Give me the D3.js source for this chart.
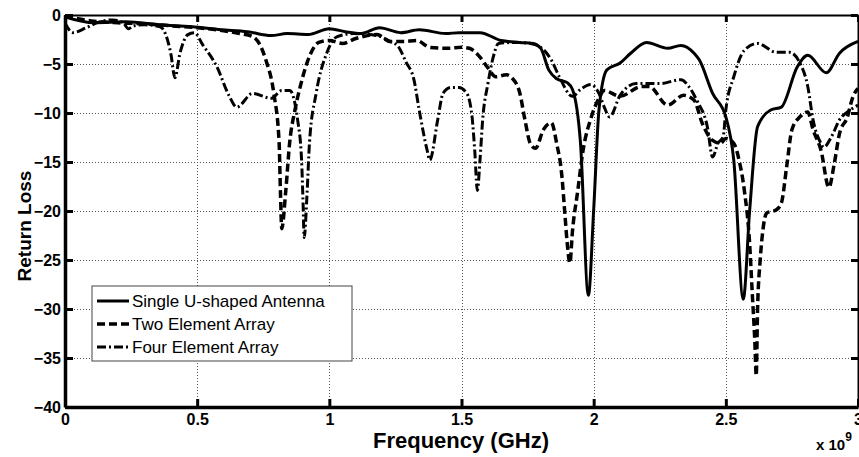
<!DOCTYPE html>
<html>
<head>
<meta charset="utf-8">
<script src="https://cdn.jsdelivr.net/npm/d3@7"></script>
<style>
body { margin:0; background:#fff; }
svg { font-family: Arial, "Liberation Sans", Helvetica, sans-serif; }
.grid line { stroke:#555; stroke-width:1; stroke-dasharray:1,2; shape-rendering:crispEdges; }
.axis text { font-size:16px; font-weight:bold; fill:#000; }
.axis line { stroke:#000; stroke-width:3; }
.axis path { stroke:#000; }
.curve { fill:none; stroke:#000; }
</style>
</head>
<body>
<script>
var width = 859, height = 457;

// frequency in GHz (axis shown in units of 1e9 Hz), return loss in dB
var singleFreq = [0,0.11,0.23,0.36,0.48,0.59,0.69,0.78,0.84,0.92,1.0,1.06,1.12,1.19,1.27,1.34,1.44,1.49,1.57,1.65,1.72,1.77,1.80,1.83,1.86,1.90,1.92,1.95,1.98,2.0,2.02,2.05,2.10,2.14,2.20,2.28,2.33,2.38,2.40,2.45,2.50,2.53,2.566,2.59,2.62,2.67,2.71,2.77,2.81,2.88,2.93,3.0];
var singleLoss = [-0.2,-0.8,-0.7,-1.0,-1.2,-1.5,-1.7,-2.1,-1.9,-2.0,-1.4,-1.7,-1.9,-1.3,-1.8,-1.5,-1.9,-1.8,-1.8,-2.6,-2.8,-2.9,-3.4,-5.6,-6.5,-6.9,-7.6,-13,-28.6,-19.9,-9.7,-5.6,-4.9,-3.9,-2.8,-3.4,-3.1,-3.9,-4.6,-8.0,-10.4,-14.8,-29.0,-20,-11.4,-9.7,-9.4,-5.3,-4.1,-5.9,-3.9,-2.7];

var twoFreq = [0,0.1,0.2,0.3,0.4,0.5,0.6,0.66,0.71,0.76,0.79,0.81,0.815,0.82,0.835,0.85,0.87,0.89,0.93,0.96,1.0,1.05,1.10,1.18,1.23,1.28,1.33,1.38,1.45,1.50,1.53,1.57,1.60,1.63,1.67,1.69,1.72,1.74,1.76,1.78,1.81,1.84,1.86,1.88,1.89,1.90,1.91,1.92,1.94,1.96,1.99,2.02,2.04,2.10,2.18,2.21,2.28,2.34,2.38,2.41,2.45,2.48,2.50,2.53,2.55,2.57,2.59,2.60,2.61,2.615,2.62,2.63,2.64,2.655,2.69,2.71,2.73,2.75,2.78,2.81,2.83,2.86,2.89,2.91,2.93,2.96,2.98,3.0];
var twoLoss = [-0.1,-0.6,-0.8,-0.9,-1.1,-1.3,-1.6,-1.9,-2.2,-4.6,-8,-13,-18,-21.8,-18,-13,-9.7,-7.3,-3.9,-2.8,-2.6,-2.9,-2.4,-2.0,-2.7,-2.7,-2.6,-3.3,-3.4,-3.3,-3.4,-4.3,-5.4,-6.3,-6.1,-6.4,-7.9,-10.7,-13.1,-13.6,-11.7,-11,-13.1,-16.5,-19.9,-23.3,-25.3,-22,-17.9,-13.8,-10.5,-8.5,-7.7,-8.3,-7.3,-7.3,-9.2,-8.2,-8.7,-11,-12.8,-13.1,-12.6,-13.1,-14.8,-17.9,-23.3,-28.4,-33.5,-36.8,-30.1,-25,-22,-20.2,-19.9,-19.2,-15.5,-11.7,-10.4,-9.9,-11.7,-13.8,-17.6,-15.2,-12.1,-10.4,-8.4,-7.5];

var fourFreq = [0,0.03,0.08,0.13,0.18,0.22,0.24,0.26,0.3,0.36,0.40,0.416,0.435,0.465,0.49,0.52,0.575,0.62,0.65,0.71,0.78,0.82,0.85,0.88,0.895,0.90,0.905,0.915,0.925,0.95,0.99,1.03,1.09,1.18,1.23,1.26,1.29,1.32,1.34,1.37,1.38,1.41,1.43,1.46,1.49,1.52,1.54,1.55,1.56,1.57,1.58,1.60,1.62,1.64,1.70,1.76,1.80,1.84,1.87,1.92,1.95,1.99,2.02,2.04,2.06,2.10,2.16,2.25,2.33,2.36,2.39,2.43,2.45,2.47,2.49,2.50,2.53,2.57,2.62,2.69,2.74,2.78,2.81,2.83,2.86,2.87,2.90,2.93,2.97,3.0];
var fourLoss = [-0.8,-1.8,-1.3,-0.7,-0.5,-0.8,-1.4,-1.1,-1.0,-1.2,-3.9,-6.4,-3.9,-2.0,-1.8,-3.0,-5.3,-8.2,-9.4,-8.0,-8.5,-7.7,-7.7,-10.7,-14.8,-18.6,-22.7,-18.6,-13,-8,-3.9,-2.2,-1.9,-2.1,-2.7,-3.2,-4.8,-6.6,-9.7,-13.8,-14.8,-10.7,-8.0,-7.4,-7.4,-8.0,-10.4,-13.8,-17.9,-14.8,-10.7,-7,-4.3,-2.9,-2.8,-2.9,-3.3,-4.6,-6.3,-8.3,-7.6,-7.1,-8,-9.4,-10.4,-8.2,-7.0,-7.0,-6.6,-7.3,-8.7,-11.4,-14.5,-13.1,-12.4,-9.7,-6.3,-3.6,-2.9,-3.8,-3.8,-4.9,-7.3,-10.7,-13.1,-13.5,-12.4,-10.7,-9.7,-9.2];

var xTicks = [0,0.5,1,1.5,2,2.5,3];
var yTicks = [-40,-35,-30,-25,-20,-15,-10,-5,0];

var series = [
	{name:"Single U-shaped Antenna", freq:singleFreq, loss:singleLoss, width:3, dash:null},
	{name:"Two Element Array", freq:twoFreq, loss:twoLoss, width:3.5, dash:"8,4"},
	{name:"Four Element Array", freq:fourFreq, loss:fourLoss, width:3, dash:"9,3,2,3"}
];

var plotL = 65, plotR = 858, plotT = 15, plotB = 407;

var x = d3.scaleLinear().domain([0,3]).range([plotL,plotR]);
var y = d3.scaleLinear().domain([-40,0]).range([plotB,plotT]);

var svg = d3.select("body")
	.append("svg")
	.attr("width", width)
	.attr("height", height);

svg.append("defs").append("clipPath")
	.attr("id", "plot")
	.append("rect")
	.attr("x", plotL)
	.attr("y", plotT)
	.attr("width", plotR-plotL)
	.attr("height", plotB-plotT);

var grid = svg.append("g").attr("class", "grid");
grid.selectAll("line.v")
	.data(xTicks.slice(1, -1))
	.enter().append("line")
	.attr("class", "v")
	.attr("x1", function(d){ return Math.round(x(d))+0.5; })
	.attr("x2", function(d){ return Math.round(x(d))+0.5; })
	.attr("y1", plotT)
	.attr("y2", plotB);
grid.selectAll("line.h")
	.data(yTicks.slice(1, -1))
	.enter().append("line")
	.attr("class", "h")
	.attr("x1", plotL)
	.attr("x2", plotR)
	.attr("y1", function(d){ return Math.round(y(d))+0.5; })
	.attr("y2", function(d){ return Math.round(y(d))+0.5; });

var line = d3.line()
	.x(function(d){ return x(d[0]); })
	.y(function(d){ return y(d[1]); })
	.curve(d3.curveMonotoneX);

svg.append("g")
	.attr("clip-path", "url(#plot)")
	.selectAll("path")
	.data(series)
	.enter().append("path")
	.attr("class", "curve")
	.attr("stroke-width", function(d){ return d.width; })
	.attr("stroke-dasharray", function(d){ return d.dash; })
	.attr("d", function(d){
		return line(d.freq.map(function(f, i){ return [f, d.loss[i]]; }));
	});

// frame: top and right thin, left and bottom heavy
svg.append("g").attr("transform", "translate(0," + plotT + ")")
	.attr("class", "axis")
	.call(d3.axisTop(x).tickValues(xTicks).tickSize(-7).tickSizeOuter(0).tickFormat(""))
	.select(".domain").attr("stroke-width", 2);
svg.append("g").attr("transform", "translate(" + plotR + ",0)")
	.attr("class", "axis")
	.call(d3.axisRight(y).tickValues(yTicks).tickSize(-7).tickSizeOuter(0).tickFormat(""))
	.select(".domain").attr("stroke-width", 2);
svg.append("g").attr("transform", "translate(0," + plotB + ")")
	.attr("class", "axis")
	.call(d3.axisBottom(x).tickValues(xTicks).tickSize(-8).tickSizeOuter(0).tickPadding(7).tickFormat(d3.format("")))
	.select(".domain").attr("stroke-width", 3.5);
svg.append("g").attr("transform", "translate(" + plotL + ",0)")
	.attr("class", "axis")
	.call(d3.axisLeft(y).tickValues(yTicks).tickSize(-8).tickSizeOuter(0).tickPadding(4).tickFormat(d3.format("")))
	.select(".domain").attr("stroke-width", 3.5);

svg.append("text")
	.attr("x", 461)
	.attr("y", 448)
	.attr("text-anchor", "middle")
	.style("font-size", "22px")
	.style("font-weight", "bold")
	.text("Frequency (GHz)");

svg.append("text")
	.attr("transform", "translate(31,226) rotate(-90)")
	.attr("text-anchor", "middle")
	.style("font-size", "19px")
	.style("font-weight", "bold")
	.text("Return Loss");

var expo = svg.append("text")
	.attr("x", 816)
	.attr("y", 450)
	.style("font-size", "15px")
	.style("font-weight", "bold")
	.text("x 10");
expo.append("tspan")
	.attr("dy", -9)
	.style("font-size", "12px")
	.text("9");

var legend = svg.append("g").attr("transform", "translate(92,286)");
legend.append("rect")
	.attr("width", 260)
	.attr("height", 75)
	.attr("fill", "#fff")
	.attr("stroke", "#444")
	.attr("stroke-width", 1);
var item = legend.selectAll("g")
	.data(series)
	.enter().append("g")
	.attr("transform", function(d, i){ return "translate(0," + (15 + i*23) + ")"; });
item.append("line")
	.attr("x1", 5)
	.attr("x2", 37)
	.attr("stroke", "#000")
	.attr("stroke-width", function(d){ return d.width; })
	.attr("stroke-dasharray", function(d){ return d.dash; });
item.append("text")
	.attr("x", 40)
	.attr("dy", "0.35em")
	.style("font-size", "17px")
	.text(function(d){ return d.name; });
</script>
</body>
</html>
